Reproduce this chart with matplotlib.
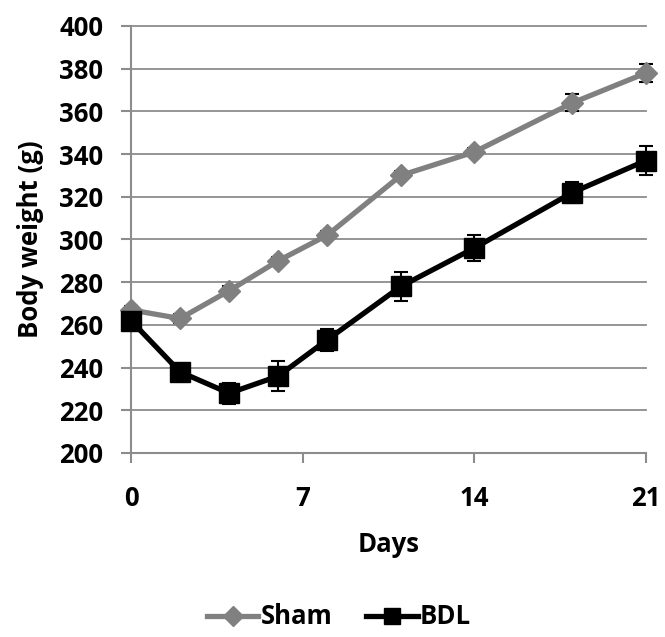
import matplotlib
matplotlib.use("Agg")
import matplotlib.pyplot as plt
from matplotlib.lines import Line2D

days = [0, 2, 4, 6, 8, 11, 14, 18, 21]
sham = [267, 263, 276, 290, 302, 330, 341, 364, 378]
sham_err = [2, 2, 2, 2, 2, 2, 2, 4, 4]
bdl = [262, 238, 228, 236, 253, 278, 296, 322, 337]
bdl_err = [3, 2, 5, 7, 5, 7, 6, 5, 7]
xticks = [0, 7, 14, 21]
yticks = list(range(200, 401, 20))

plt.rcParams['font.family'] = ['Open Sans', 'DejaVu Sans']
plt.rcParams['font.weight'] = 'bold'
FS = 18.5

fig = plt.figure(figsize=(6.65, 6.37), dpi=100)
ax = fig.add_axes([131/665, 1-453/637, (646-131)/665, (453-26)/637])

grid_c = '#8c8c8c'
for y in yticks[1:]:
    ax.axhline(y, color=grid_c, lw=1.3, zorder=0)

ax.errorbar(days, sham, yerr=sham_err, color='#808080', lw=3.8, marker='D', ms=11,
            capsize=5, elinewidth=1.5, ecolor='black', capthick=1.5, zorder=3)
ax.errorbar(days, bdl, yerr=bdl_err, color='black', lw=3.8, marker='s', ms=15,
            capsize=5, elinewidth=1.5, ecolor='black', capthick=1.5, zorder=4)

ax.set_xlim(0, 21)
ax.set_ylim(200, 400)
ax.set_xticks(xticks)
ax.set_yticks(yticks)
for s in ['top', 'right']:
    ax.spines[s].set_visible(False)
for s in ['left', 'bottom']:
    ax.spines[s].set_color(grid_c)
    ax.spines[s].set_linewidth(1.5)
ax.tick_params(axis='both', colors=grid_c, length=7, width=1.5, labelsize=FS,
               labelcolor='black')
ax.tick_params(axis='x', pad=16)
ax.tick_params(axis='y', pad=13)
for lab in ax.get_xticklabels() + ax.get_yticklabels():
    lab.set_fontweight('bold')
ax.set_xlabel('Days', fontsize=FS, fontweight='bold', labelpad=14)
ax.set_ylabel('Body weight (g)', fontsize=FS, fontweight='bold', labelpad=11)
for art in ax.get_children():
    try:
        art.set_clip_on(False)
    except Exception:
        pass

handles = [Line2D([], [], color='#808080', lw=3.8, marker='D', ms=10),
           Line2D([], [], color='black', lw=3.8, marker='s', ms=12)]
fig.legend(handles, ['Sham', 'BDL'], loc='center', bbox_to_anchor=(0.51, 1-617/637),
           ncol=2, frameon=False, handlelength=2.0, columnspacing=1.3, handletextpad=0.1,
           prop={'weight': 'bold', 'size': FS})
fig.savefig('out.png', dpi=100)
